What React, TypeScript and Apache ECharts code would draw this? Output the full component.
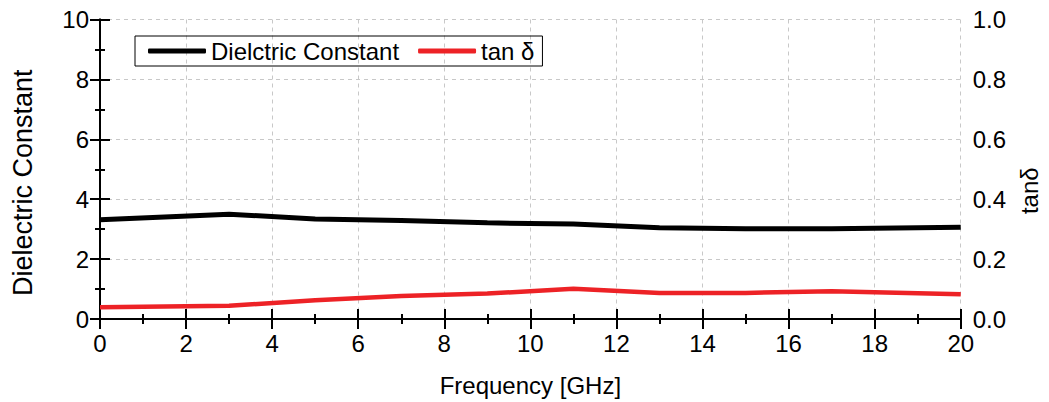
import React, { useEffect, useRef } from "react";
import * as echarts from "echarts";

const freq = [0, 3, 5, 7, 9, 11, 13, 15, 17, 20];
const dielectric = [3.31, 3.5, 3.34, 3.29, 3.21, 3.17, 3.05, 3.01, 3.01, 3.06];
const tanDelta = [0.039, 0.044, 0.063, 0.077, 0.085, 0.101, 0.087, 0.087, 0.093, 0.083];

const FONT = "'Liberation Sans', Arial, sans-serif";

export default function App() {
  const ref = useRef<HTMLDivElement>(null);
  useEffect(() => {
    if (!ref.current) return;
    const chart = echarts.init(ref.current, undefined, { renderer: "svg" });
    const axisLine = { show: true, lineStyle: { color: "#000", width: 2 } };
    const tick = { show: true, inside: true, length: 10, lineStyle: { color: "#000", width: 2 } };
    const minor = { show: true, splitNumber: 2, length: 5, lineStyle: { color: "#000", width: 2 } };
    const dashed = { show: true, lineStyle: { color: "#c8c8c8", type: [4, 4], width: 1 } };
    const label = { color: "#000", fontSize: 24, fontFamily: FONT };
    chart.setOption({
      animation: false,
      textStyle: { fontFamily: FONT },
      grid: { left: 100, right: 84, top: 19.5, bottom: 80.3 },
      legend: {
        left: 135,
        top: 36,
        orient: "horizontal",
        padding: [3, 8, 3, 13],
        borderColor: "#000",
        borderWidth: 1,
        itemWidth: 58,
        itemHeight: 5,
        itemGap: 19,
        icon: "roundRect",
        textStyle: { color: "#000", fontSize: 24, fontFamily: FONT },
        data: ["Dielctric Constant", "tan δ"],
      },
      xAxis: [
        {
          type: "value",
          min: 0,
          max: 20,
          interval: 2,
          position: "bottom",
          name: "Frequency [GHz]",
          nameLocation: "middle",
          nameGap: 54,
          nameTextStyle: { color: "#000", fontSize: 24, fontFamily: FONT },
          axisLine,
          axisTick: tick,
          minorTick: minor,
          axisLabel: { ...label, margin: 12 },
          splitLine: dashed,
        },
        {
          type: "value",
          min: 0,
          max: 20,
          interval: 2,
          position: "top",
          axisLine,
          axisTick: tick,
          minorTick: minor,
          axisLabel: { show: false },
          splitLine: { show: false },
        },
      ],
      yAxis: [
        {
          type: "value",
          min: 0,
          max: 10,
          interval: 2,
          position: "left",
          name: "Dielectric Constant",
          nameLocation: "middle",
          nameGap: 64,
          nameTextStyle: { color: "#000", fontSize: 27, fontFamily: FONT, padding: [0, 27, 0, 0] },
          axisLine,
          axisTick: tick,
          minorTick: minor,
          axisLabel: { ...label, margin: 11 },
          splitLine: dashed,
        },
        {
          type: "value",
          min: 0,
          max: 1,
          interval: 0.2,
          position: "right",
          name: "tanδ",
          nameLocation: "middle",
          nameGap: 55,
          nameTextStyle: { color: "#000", fontSize: 24, fontFamily: FONT, padding: [0, 43, 0, 0] },
          axisLine,
          axisTick: tick,
          minorTick: minor,
          axisLabel: { ...label, margin: 12, formatter: (v: number) => v.toFixed(1) },
          splitLine: { show: false },
        },
      ],
      series: [
        {
          name: "Dielctric Constant",
          type: "line",
          xAxisIndex: 0,
          yAxisIndex: 0,
          symbol: "none",
          lineStyle: { color: "#000", width: 5 },
          itemStyle: { color: "#000" },
          data: freq.map((f, i) => [f, dielectric[i]]),
        },
        {
          name: "tan δ",
          type: "line",
          xAxisIndex: 0,
          yAxisIndex: 1,
          symbol: "none",
          lineStyle: { color: "#ed2226", width: 4.5 },
          itemStyle: { color: "#ed2226" },
          data: freq.map((f, i) => [f, tanDelta[i]]),
        },
      ],
    });
    return () => chart.dispose();
  }, []);
  return (
    <div
      ref={ref}
      style={{ position: "fixed", left: 0, top: 0, width: 1049, height: 402, background: "#fff" }}
    />
  );
}
